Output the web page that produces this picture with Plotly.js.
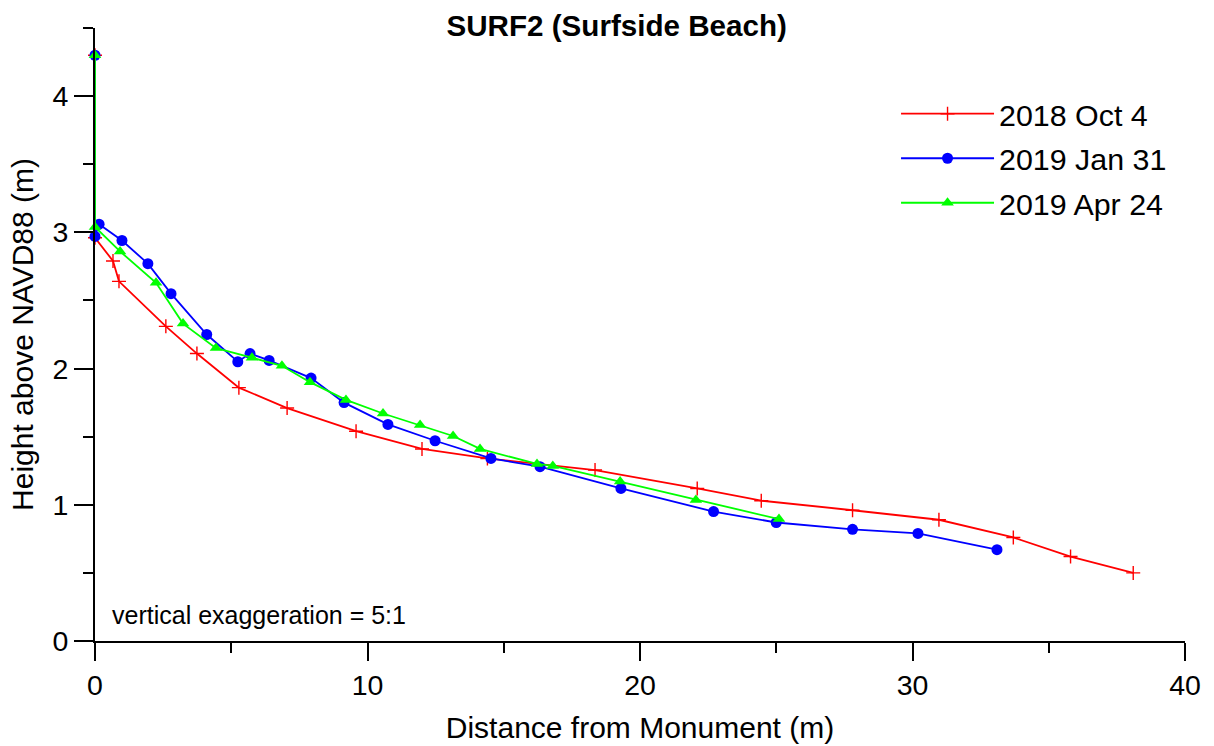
<!DOCTYPE html>
<html>
<head>
<meta charset="utf-8">
<script src="https://cdn.plot.ly/plotly-3.0.1.min.js"></script>
<style>
html,body{margin:0;padding:0;background:#fff;}
#chart{width:1214px;height:746px;}
</style>
</head>
<body>
<div id="chart"></div>
<script>
// Series names
const seriesNames = ["2018 Oct 4", "2019 Jan 31", "2019 Apr 24"];

// 2018 Oct 4
const octX = [0, 0, 0.66, 0.88, 2.6, 3.74, 5.28, 7.05, 9.58, 12.0, 14.4, 18.35, 22.1, 24.45, 27.8, 30.97, 33.7, 35.8, 38.1];
const octY = [4.3, 2.96, 2.79, 2.64, 2.31, 2.11, 1.86, 1.71, 1.54, 1.41, 1.34, 1.255, 1.12, 1.03, 0.96, 0.89, 0.76, 0.62, 0.50];

// 2019 Jan 31
const janX = [0, 0, 0.15, 0.99, 1.94, 2.79, 4.1, 5.24, 5.69, 6.39, 7.93, 9.14, 10.75, 12.48, 14.53, 16.33, 19.3, 22.7, 25.0, 27.8, 30.2, 33.1];
const janY = [4.3, 2.97, 3.06, 2.94, 2.77, 2.55, 2.25, 2.05, 2.11, 2.06, 1.93, 1.75, 1.59, 1.47, 1.34, 1.28, 1.12, 0.95, 0.87, 0.82, 0.79, 0.67];

// 2019 Apr 24
const aprX = [0, 0, 0.92, 2.24, 3.23, 4.44, 5.76, 6.86, 7.89, 9.21, 10.57, 11.93, 13.14, 14.13, 16.22, 16.8, 19.27, 22.05, 25.1];
const aprY = [4.3, 3.04, 2.86, 2.63, 2.33, 2.15, 2.08, 2.02, 1.90, 1.77, 1.67, 1.585, 1.505, 1.41, 1.30, 1.285, 1.17, 1.035, 0.895];

const FONT = "Liberation Sans, Arial, sans-serif";

const traces = [
  {
    x: octX, y: octY, name: seriesNames[0], type: "scatter", mode: "lines+markers",
    legendgroup: "a", cliponaxis: false,
    line: {color: "#ff0000", width: 1.8},
    marker: {symbol: "cross-thin-open", size: 10, color: "#ff0000", line: {color: "#ff0000", width: 1.4}}
  },
  {
    x: janX, y: janY, name: seriesNames[1], type: "scatter", mode: "lines+markers",
    legendgroup: "b", cliponaxis: false,
    line: {color: "#0000ff", width: 1.8},
    marker: {symbol: "circle", size: 11, color: "#0000ff"}
  },
  {
    x: aprX, y: aprY, name: seriesNames[2], type: "scatter", mode: "lines+markers",
    legendgroup: "c", cliponaxis: false,
    line: {color: "#00ff00", width: 1.8},
    marker: {symbol: "triangle-up", size: 11, color: "#00ff00"}
  }
];

const layout = {
  width: 1214, height: 746,
  margin: {l: 95, r: 29, t: 28, b: 105, pad: 0},
  paper_bgcolor: "#ffffff", plot_bgcolor: "#ffffff",
  font: {family: FONT, color: "#000000", size: 28},
  title: {
    text: "<b>SURF2 (Surfside Beach)</b>",
    font: {family: FONT, size: 29.6, color: "#000000"},
    xref: "container", x: 0.508, xanchor: "center",
    yref: "container", y: 0.966, yanchor: "middle"
  },
  xaxis: {
    range: [0, 40], dtick: 10, tick0: 0,
    showgrid: false, zeroline: false,
    showline: true, linecolor: "#000000", linewidth: 2,
    ticks: "outside", ticklen: 18, tickwidth: 2, tickcolor: "#000000",
    minor: {dtick: 5, ticks: "outside", ticklen: 10, tickwidth: 2, tickcolor: "#000000", showgrid: false},
    tickfont: {family: FONT, size: 28.5, color: "#000000"},
    title: {text: "Distance from Monument (m)", font: {family: FONT, size: 30, color: "#000000"}, standoff: 17}
  },
  yaxis: {
    range: [0, 4.5], dtick: 1, tick0: 0,
    showgrid: false, zeroline: false,
    showline: true, linecolor: "#000000", linewidth: 2,
    ticks: "outside", ticklen: 19, tickwidth: 2, tickcolor: "#000000",
    minor: {dtick: 0.5, ticks: "outside", ticklen: 10, tickwidth: 2, tickcolor: "#000000", showgrid: false},
    tickfont: {family: FONT, size: 28.5, color: "#000000"},
    title: {text: "Height above NAVD88 (m)", font: {family: FONT, size: 30, color: "#000000"}, standoff: 10}
  },
  legend: {
    x: 0.7349, y: 0.903, xanchor: "left", yanchor: "top",
    bgcolor: "rgba(0,0,0,0)", borderwidth: 0,
    font: {family: FONT, size: 30.4, color: "#000000"},
    tracegroupgap: 2,
    itemwidth: 93
  },
  annotations: [
    {
      text: "vertical exaggeration = 5:1",
      xref: "paper", yref: "paper", x: 0.0138, y: 0.0424,
      xanchor: "left", yanchor: "middle", showarrow: false,
      font: {family: FONT, size: 25, color: "#000000"}
    }
  ],
  showlegend: true
};

Plotly.newPlot("chart", traces, layout, {displayModeBar: false, staticPlot: true});
</script>
</body>
</html>
